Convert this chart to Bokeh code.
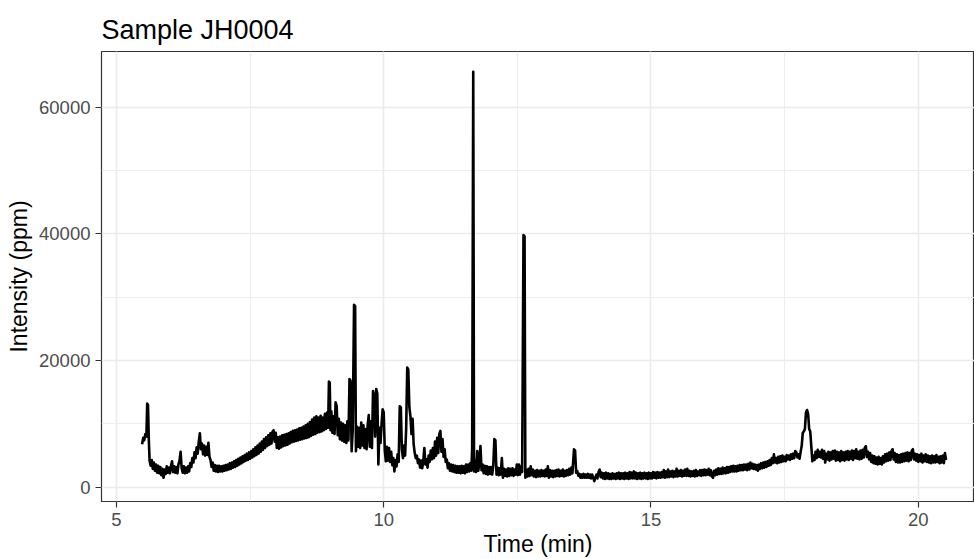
from bokeh.plotting import figure
from bokeh.models import SingleIntervalTicker, BasicTickFormatter, Range1d
from bokeh.embed import file_html
from bokeh.resources import INLINE

title_text = "Sample JH0004"
x_label = "Time (min)"
y_label = "Intensity (ppm)"

time_min = [
    5.48, 5.50, 5.52, 5.54, 5.56, 5.575, 5.59, 5.605, 5.62, 5.64,
    5.66, 5.68, 5.70, 5.72, 5.74, 5.76, 5.78, 5.80, 5.82, 5.84,
    5.86, 5.88, 5.90, 5.92, 5.94, 5.96, 5.98, 6.00, 6.02, 6.04,
    6.06, 6.08, 6.10, 6.12, 6.14, 6.16, 6.18, 6.20, 6.22, 6.24,
    6.26, 6.28, 6.30, 6.32, 6.34, 6.36, 6.38, 6.40, 6.42, 6.44,
    6.46, 6.48, 6.50, 6.52, 6.54, 6.56, 6.58, 6.60, 6.62, 6.64,
    6.66, 6.68, 6.70, 6.72, 6.74, 6.76, 6.78, 6.80, 6.82, 6.84,
    6.86, 6.88, 6.90, 6.92, 6.94, 6.96, 6.98, 7.00, 7.02, 7.04,
    7.06, 7.08, 7.10, 7.12, 7.14, 7.16, 7.18, 7.20, 7.22, 7.24,
    7.26, 7.28, 7.30, 7.32, 7.34, 7.36, 7.38, 7.40, 7.42, 7.44,
    7.46, 7.48, 7.50, 7.52, 7.54, 7.56, 7.58, 7.60, 7.62, 7.64,
    7.66, 7.68, 7.70, 7.72, 7.74, 7.76, 7.78, 7.80, 7.82, 7.84,
    7.86, 7.88, 7.90, 7.92, 7.94, 7.96, 7.98, 8.00, 8.02, 8.04,
    8.06, 8.08, 8.10, 8.12, 8.14, 8.16, 8.18, 8.20, 8.22, 8.24,
    8.26, 8.28, 8.30, 8.32, 8.34, 8.36, 8.38, 8.40, 8.42, 8.44,
    8.46, 8.48, 8.50, 8.52, 8.54, 8.56, 8.58, 8.60, 8.62, 8.64,
    8.66, 8.68, 8.70, 8.72, 8.74, 8.76, 8.78, 8.80, 8.82, 8.84,
    8.86, 8.88, 8.90, 8.92, 8.94, 8.96, 8.975, 8.99, 9.005, 9.02,
    9.04, 9.06, 9.08, 9.10, 9.12, 9.14, 9.16, 9.18, 9.20, 9.22,
    9.24, 9.26, 9.28, 9.30, 9.32, 9.34, 9.36, 9.38, 9.40, 9.42,
    9.445, 9.465, 9.48, 9.50, 9.52, 9.54, 9.56, 9.58, 9.60, 9.62,
    9.64, 9.66, 9.68, 9.70, 9.72, 9.74, 9.76, 9.78, 9.80, 9.82,
    9.84, 9.86, 9.88, 9.90, 9.92, 9.94, 9.96, 9.98, 10.00, 10.02,
    10.04, 10.06, 10.08, 10.10, 10.12, 10.14, 10.16, 10.18, 10.20, 10.22,
    10.24, 10.26, 10.28, 10.30, 10.32, 10.34, 10.36, 10.38, 10.40, 10.42,
    10.44, 10.46, 10.48, 10.50, 10.52, 10.54, 10.56, 10.58, 10.60, 10.62,
    10.64, 10.66, 10.68, 10.70, 10.72, 10.74, 10.76, 10.78, 10.80, 10.82,
    10.84, 10.86, 10.88, 10.90, 10.92, 10.94, 10.96, 10.98, 11.00, 11.02,
    11.04, 11.06, 11.08, 11.10, 11.12, 11.14, 11.16, 11.18, 11.20, 11.22,
    11.24, 11.26, 11.28, 11.30, 11.32, 11.34, 11.36, 11.38, 11.40, 11.42,
    11.44, 11.46, 11.48, 11.50, 11.52, 11.54, 11.56, 11.58, 11.60, 11.62,
    11.64, 11.655, 11.675, 11.69, 11.71, 11.73, 11.75, 11.77, 11.79, 11.81,
    11.83, 11.85, 11.87, 11.89, 11.91, 11.93, 11.95, 11.97, 11.99, 12.01,
    12.03, 12.05, 12.07, 12.09, 12.11, 12.13, 12.15, 12.17, 12.19, 12.21,
    12.23, 12.25, 12.27, 12.29, 12.31, 12.33, 12.35, 12.37, 12.39, 12.41,
    12.43, 12.45, 12.47, 12.49, 12.51, 12.53, 12.55, 12.57, 12.59, 12.615,
    12.635, 12.65, 12.67, 12.69, 12.71, 12.73, 12.75, 12.77, 12.79, 12.81,
    12.83, 12.85, 12.87, 12.89, 12.91, 12.93, 12.95, 12.97, 12.99, 13.01,
    13.03, 13.05, 13.07, 13.09, 13.11, 13.13, 13.15, 13.17, 13.19, 13.21,
    13.23, 13.25, 13.27, 13.29, 13.31, 13.33, 13.35, 13.37, 13.39, 13.41,
    13.43, 13.45, 13.47, 13.49, 13.51, 13.53, 13.56, 13.58, 13.60, 13.62,
    13.64, 13.66, 13.68, 13.70, 13.72, 13.74, 13.76, 13.78, 13.80, 13.82,
    13.84, 13.86, 13.88, 13.90, 13.92, 13.94, 13.96, 13.98, 14.00, 14.02,
    14.04, 14.06, 14.08, 14.10, 14.12, 14.14, 14.16, 14.18, 14.20, 14.22,
    14.24, 14.26, 14.28, 14.30, 14.32, 14.34, 14.36, 14.38, 14.40, 14.42,
    14.44, 14.46, 14.48, 14.50, 14.52, 14.54, 14.56, 14.58, 14.60, 14.62,
    14.64, 14.66, 14.68, 14.70, 14.72, 14.74, 14.76, 14.78, 14.80, 14.82,
    14.84, 14.86, 14.88, 14.90, 14.92, 14.94, 14.96, 14.98, 15.00, 15.02,
    15.04, 15.06, 15.08, 15.10, 15.12, 15.14, 15.16, 15.18, 15.20, 15.22,
    15.24, 15.26, 15.28, 15.30, 15.32, 15.34, 15.36, 15.38, 15.40, 15.42,
    15.44, 15.46, 15.48, 15.50, 15.52, 15.54, 15.56, 15.58, 15.60, 15.62,
    15.64, 15.66, 15.68, 15.70, 15.72, 15.74, 15.76, 15.78, 15.80, 15.82,
    15.84, 15.86, 15.88, 15.90, 15.92, 15.94, 15.96, 15.98, 16.00, 16.02,
    16.04, 16.06, 16.08, 16.10, 16.12, 16.14, 16.16, 16.18, 16.20, 16.22,
    16.24, 16.26, 16.28, 16.30, 16.32, 16.34, 16.36, 16.38, 16.40, 16.42,
    16.44, 16.46, 16.48, 16.50, 16.52, 16.54, 16.56, 16.58, 16.60, 16.62,
    16.64, 16.66, 16.68, 16.70, 16.72, 16.74, 16.76, 16.78, 16.80, 16.82,
    16.84, 16.86, 16.88, 16.90, 16.92, 16.94, 16.96, 16.98, 17.00, 17.02,
    17.04, 17.06, 17.08, 17.10, 17.12, 17.14, 17.16, 17.18, 17.20, 17.22,
    17.24, 17.26, 17.28, 17.30, 17.32, 17.34, 17.36, 17.38, 17.40, 17.42,
    17.44, 17.46, 17.48, 17.50, 17.52, 17.54, 17.56, 17.58, 17.60, 17.62,
    17.64, 17.66, 17.68, 17.70, 17.72, 17.74, 17.76, 17.78, 17.80, 17.82,
    17.84, 17.86, 17.88, 17.90, 17.92, 17.94, 17.96, 17.98, 18.00, 18.02,
    18.04, 18.06, 18.08, 18.10, 18.12, 18.14, 18.16, 18.18, 18.20, 18.22,
    18.24, 18.26, 18.28, 18.30, 18.32, 18.34, 18.36, 18.38, 18.40, 18.42,
    18.44, 18.46, 18.48, 18.50, 18.52, 18.54, 18.56, 18.58, 18.60, 18.62,
    18.64, 18.66, 18.68, 18.70, 18.72, 18.74, 18.76, 18.78, 18.80, 18.82,
    18.84, 18.86, 18.88, 18.90, 18.92, 18.94, 18.96, 18.98, 19.00, 19.02,
    19.04, 19.06, 19.08, 19.10, 19.12, 19.14, 19.16, 19.18, 19.20, 19.22,
    19.24, 19.26, 19.28, 19.30, 19.32, 19.34, 19.36, 19.38, 19.40, 19.42,
    19.44, 19.46, 19.48, 19.50, 19.52, 19.54, 19.56, 19.58, 19.60, 19.62,
    19.64, 19.66, 19.68, 19.70, 19.72, 19.74, 19.76, 19.78, 19.80, 19.82,
    19.84, 19.86, 19.88, 19.90, 19.92, 19.94, 19.96, 19.98, 20.00, 20.02,
    20.04, 20.06, 20.08, 20.10, 20.12, 20.14, 20.16, 20.18, 20.20, 20.22,
    20.24, 20.26, 20.28, 20.30, 20.32, 20.34, 20.36, 20.38, 20.40, 20.42,
    20.44, 20.46, 20.48, 20.50, 20.52,
]

intensity_ppm = [
    6800, 7800, 7400, 8400, 8000, 13200, 13000, 7500, 4200, 3400,
    4300, 2900, 3900, 2600, 3600, 2300, 3400, 2200, 3200, 1900,
    2900, 1500, 2800, 2100, 3300, 2300, 3100, 2200, 3400, 4100,
    2400, 3300, 2300, 3200, 2200, 3600, 4200, 5600, 3000, 2300,
    3300, 2200, 3100, 2300, 3300, 2500, 3800, 3200, 4600, 3900,
    5500, 4600, 6300, 5300, 7200, 8500, 6000, 6900, 5200, 6600,
    5000, 6400, 5100, 7000, 4800, 4300, 3200, 3900, 2600, 3500,
    2500, 3400, 2400, 3400, 2500, 3300, 2500, 3400, 2600, 3500,
    2700, 3600, 2800, 3800, 2900, 3900, 3100, 4100, 3200, 4300,
    3400, 4500, 3600, 4700, 3800, 4900, 4000, 5100, 4200, 5300,
    4300, 5500, 4500, 5700, 4700, 6000, 4900, 6300, 5100, 6600,
    5300, 6900, 5600, 7200, 5900, 7600, 6200, 7900, 6500, 8200,
    6700, 8500, 6900, 8800, 9000, 7200, 8600, 6200, 7900, 6100,
    8000, 6300, 8200, 6500, 8300, 6600, 8400, 6700, 8500, 6900,
    8700, 7100, 8900, 7200, 9000, 7300, 9100, 7400, 9300, 7500,
    9400, 7600, 9600, 7700, 9800, 7800, 10000, 7900, 10300, 8100,
    10700, 8300, 11000, 8400, 11200, 8600, 11000, 8700, 11300, 8800,
    11000, 9000, 11600, 9200, 11800, 9400, 16700, 16500, 9000, 12000,
    8600, 11200, 8400, 13400, 12800, 8200, 10800, 7600, 10200, 7400,
    10000, 7200, 9800, 7000, 10400, 7400, 17100, 16800, 5700, 9000,
    28800, 28600, 5700, 9600, 6400, 9400, 6200, 10200, 6600, 9800,
    6200, 9200, 6000, 9800, 11400, 6400, 10400, 6200, 15200, 14400,
    8000, 15500, 14800, 3600, 9400, 7000, 10000, 12300, 11800, 5800,
    4100, 6400, 4200, 6200, 4000, 5600, 3500, 4600, 2500, 4300,
    3300, 5200, 4000, 12800, 12600, 6000, 4600, 6600, 5000, 9200,
    18900, 18600, 12600, 11200, 8400, 10800, 6800, 5400, 4600, 5000,
    3800, 4400, 3100, 4200, 3000, 4100, 6200, 3600, 4400, 3100,
    5000, 4000, 5800, 4400, 6200, 4600, 7200, 5000, 7800, 5400,
    8400, 8900, 5600, 7600, 4800, 6000, 4000, 4400, 3000, 3800,
    2600, 3600, 2500, 3500, 2400, 3400, 2300, 3300, 2300, 3300,
    2200, 3400, 2300, 3300, 2200, 3600, 2400, 3600, 2500, 3800,
    2600, 6200, 65600, 2500, 4200, 2400, 5700, 2600, 4000, 6500,
    2700, 3600, 2200, 3400, 2100, 3300, 2000, 3200, 2100, 3200,
    2000, 3400, 7600, 7400, 2000, 3100, 1900, 3000, 2000, 4600,
    1500, 2900, 1800, 2800, 1700, 3000, 1800, 2900, 1900, 3000,
    1800, 2800, 2000, 3600, 1900, 3600, 2000, 3300, 2400, 39800,
    39600, 1500, 2800, 1700, 2900, 1800, 3300, 1900, 2800, 1700,
    2600, 1600, 2700, 1700, 2600, 1700, 2700, 1800, 2600, 1700,
    2800, 1800, 3300, 1500, 2700, 1700, 2600, 1600, 2600, 1700,
    2700, 1800, 2800, 1700, 2600, 1800, 2800, 1700, 2600, 1800,
    2700, 1900, 2900, 2000, 3100, 2200, 6000, 5800, 2300, 2600,
    1800, 2100, 1500, 2000, 1500, 2100, 1500, 2000, 1500, 2100,
    1500, 2000, 1400, 2000, 1500, 950, 1500, 2000, 1400, 2400,
    2800, 1600, 2300, 1400, 2200, 1300, 2300, 1400, 2200, 1300,
    2100, 1300, 2200, 1400, 2100, 1300, 2200, 1400, 2300, 1300,
    2200, 1400, 2200, 1300, 2300, 1400, 2200, 1300, 2400, 1400,
    2300, 1400, 2500, 1400, 2300, 1300, 2200, 1400, 2300, 1300,
    2200, 1400, 2300, 1400, 2200, 1300, 2300, 1400, 2200, 1400,
    2400, 1500, 2300, 1400, 2400, 1500, 2300, 1500, 2400, 1600,
    2700, 1500, 2500, 1600, 2800, 1600, 2500, 1700, 2600, 1600,
    2500, 1700, 2900, 1700, 2600, 1800, 2700, 1700, 2600, 1800,
    2800, 1800, 2900, 1800, 2600, 1700, 2500, 1800, 2600, 1700,
    2700, 1800, 2500, 1900, 2700, 1800, 2700, 1900, 2800, 1900,
    2700, 2000, 2900, 1900, 2700, 1700, 1500, 2600, 1900, 2800,
    2000, 3000, 2100, 2900, 2100, 3100, 2200, 3000, 2200, 3200,
    2300, 3200, 2400, 3300, 2500, 3400, 2500, 3300, 2500, 3400,
    2600, 3500, 2700, 3500, 2700, 3600, 2800, 3600, 2700, 3700,
    2800, 3900, 3000, 3700, 2900, 3600, 2800, 3500, 2600, 3600,
    2900, 3800, 3000, 3900, 3100, 4000, 3200, 4100, 3400, 4300,
    3500, 4600, 3800, 5200, 3900, 4600, 3800, 4800, 3900, 4900,
    4000, 5000, 4100, 4800, 4100, 5100, 4400, 5000, 4300, 5200,
    4500, 5300, 4600, 5700, 5500, 4700, 5200, 4500, 5600, 6500,
    8600, 8800, 9200, 11800, 12200, 11600, 9200, 8800, 6400, 4100,
    5000, 4300, 5600, 4600, 5900, 4800, 5600, 4700, 5900, 4500,
    5700, 3900, 5300, 4400, 5600, 4200, 5500, 4400, 5700, 4500,
    5800, 4200, 5600, 4300, 5500, 4100, 5700, 4300, 5500, 4200,
    5600, 4400, 5700, 4300, 5600, 4500, 5800, 4300, 5700, 4600,
    6000, 4500, 5600, 4400, 5800, 4500, 5900, 4700, 6200, 6500,
    4800, 5600, 4400, 5400, 4000, 5000, 3800, 4900, 3700, 4700,
    3600, 4800, 3700, 4600, 3600, 4900, 3900, 5200, 4100, 5300,
    4200, 5500, 4300, 5700, 6000, 4400, 5400, 4000, 5200, 3900,
    5100, 3900, 5200, 4000, 5300, 4100, 5400, 4200, 5500, 4100,
    5400, 4300, 5800, 6000, 4400, 5300, 4200, 5200, 4000, 5100,
    4100, 5300, 3900, 5000, 4100, 5200, 4000, 5000, 3900, 4900,
    3800, 5000, 3900, 4900, 3900, 5100, 4000, 4800, 3800, 4900,
    3900, 5000, 3800, 5400, 4300,
]

assert len(time_min) == len(intensity_ppm)

x_tick_interval = 5
y_tick_interval = 20000

p = figure(
    width=974, height=559,
    output_backend="svg", toolbar_location=None,
    x_range=Range1d(4.72, 21.053), y_range=Range1d(-2250, 68800),
    min_border_left=101, min_border_right=0, min_border_top=51, min_border_bottom=58,
    title=title_text,
)

p.line(time_min, intensity_ppm, line_color="black", line_width=2.6, line_join="round")

p.title.text_font = "Liberation Sans"
p.title.text_font_size = "27px"
p.title.text_font_style = "normal"
p.title.text_color = "black"
p.title.offset = 0
p.title.standoff = 14

for g in (p.xgrid, p.ygrid):
    g.grid_line_color = "#EBEBEB"
    g.grid_line_width = 1.6
    g.minor_grid_line_color = "#EBEBEB"
    g.minor_grid_line_width = 0.9

p.xaxis.ticker = SingleIntervalTicker(interval=x_tick_interval, num_minor_ticks=2)
p.yaxis.ticker = SingleIntervalTicker(interval=y_tick_interval, num_minor_ticks=2)
p.xgrid.ticker = p.xaxis.ticker
p.ygrid.ticker = p.yaxis.ticker
p.yaxis.formatter = BasicTickFormatter(use_scientific=False)

for ax in (p.xaxis, p.yaxis):
    ax.axis_line_color = None
    ax.major_tick_line_color = "#333333"
    ax.major_tick_line_width = 1.2
    ax.major_tick_out = 6
    ax.major_tick_in = 0
    ax.minor_tick_line_color = None
    ax.major_label_text_font = "Liberation Sans"
    ax.major_label_text_font_size = "18.5px"
    ax.major_label_text_color = "#4D4D4D"
    ax.axis_label_text_font = "Liberation Sans"
    ax.axis_label_text_font_size = "23px"
    ax.axis_label_text_font_style = "normal"
    ax.axis_label_text_color = "black"

p.xaxis.axis_label = x_label
p.yaxis.axis_label = y_label
p.xaxis.major_label_standoff = 5
p.xaxis.axis_label_standoff = 2
p.yaxis.major_label_standoff = 5
p.yaxis.axis_label_standoff = 4

p.outline_line_color = "#333333"
p.outline_line_width = 1.2
p.background_fill_color = "white"
p.border_fill_color = "white"

open("out.html", "w").write(file_html(p, INLINE))
